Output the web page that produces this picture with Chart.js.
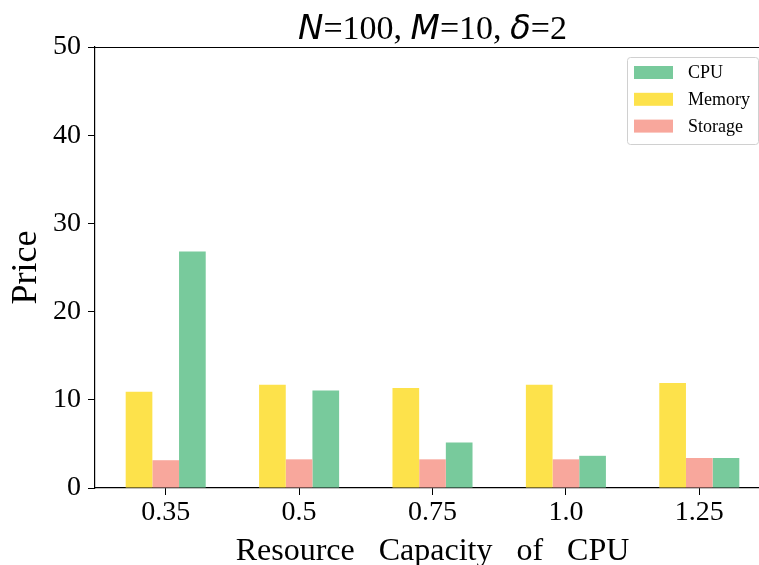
<!DOCTYPE html>
<html>
<head>
<meta charset="utf-8">
<script src="https://cdn.jsdelivr.net/npm/chart.js@4"></script>
<style>
html, body { margin: 0; padding: 0; background: #ffffff; overflow: hidden; }
#wrap { width: 759px; height: 565px; overflow: hidden; position: relative; }
canvas { display: block; }
</style>
</head>
<body>
<div id="wrap"><canvas id="c" width="780" height="565"></canvas></div>
<script>
// ---- data ----
const categories = ['0.35', '0.5', '0.75', '1.0', '1.25'];
const memoryPrice = [10.9, 11.7, 11.35, 11.7, 11.9];
const storagePrice = [3.15, 3.25, 3.25, 3.25, 3.4];
const cpuPrice = [26.8, 11.05, 5.15, 3.65, 3.4];
const yTicks = [0, 10, 20, 30, 40, 50];
const legendOrder = ['CPU', 'Memory', 'Storage'];
const titleParts = [
  { text: 'N', math: true },
  { text: '=100, ', math: false },
  { text: 'M', math: true },
  { text: '=10, ', math: false },
  { text: 'δ', math: true },
  { text: '=2', math: false }
];
const xTitle = 'Resource   Capacity   of   CPU';
const yTitle = 'Price';

const SERIF = '"Liberation Serif", "Times New Roman", serif';
const colors = { CPU: '#78CA9C', Memory: '#FDE24B', Storage: '#F8A79C' };

const toPoints = arr => arr.map((v, i) => ({ x: i, y: v }));

const titlePlugin = {
  id: 'mixedTitle',
  afterDraw(chart) {
    const ctx = chart.ctx;
    const ca = chart.chartArea;
    ctx.save();
    const mathFont = 'italic 34px "DejaVu Sans", sans-serif';
    const textFont = '34px ' + SERIF;
    let total = 0;
    const widths = titleParts.map(p => {
      ctx.font = p.math ? mathFont : textFont;
      const w = ctx.measureText(p.text).width;
      total += w;
      return w;
    });
    let x = (ca.left + ca.right) / 2 - total / 2;
    const y = 39;
    ctx.fillStyle = '#000';
    ctx.textBaseline = 'alphabetic';
    ctx.textAlign = 'left';
    titleParts.forEach((p, i) => {
      ctx.font = p.math ? mathFont : textFont;
      ctx.fillText(p.text, x, y);
      x += widths[i];
    });
    // top and right spines
    ctx.strokeStyle = '#000';
    ctx.lineWidth = 1.2;
    ctx.beginPath();
    ctx.moveTo(ca.left, ca.top + 0.5);
    ctx.lineTo(ca.right, ca.top + 0.5);
    ctx.lineTo(ca.right, ca.bottom);
    ctx.stroke();
    ctx.restore();
  }
};

const legendPlugin = {
  id: 'insideLegend',
  afterDatasetsDraw(chart) {
    const ctx = chart.ctx;
    const ca = chart.chartArea;
    const w = 131, h = 87;
    const left = ca.right - 12 - w;
    const top = ca.top + 10;
    ctx.save();
    ctx.beginPath();
    if (ctx.roundRect) ctx.roundRect(left + 0.5, top + 0.5, w, h, 3);
    else ctx.rect(left + 0.5, top + 0.5, w, h);
    ctx.fillStyle = 'rgba(255,255,255,0.8)';
    ctx.fill();
    ctx.strokeStyle = '#d0d0d0';
    ctx.lineWidth = 1;
    ctx.stroke();
    ctx.font = '18px ' + SERIF;
    ctx.textBaseline = 'middle';
    ctx.textAlign = 'left';
    legendOrder.forEach((name, i) => {
      const ds = chart.data.datasets.find(d => d.label === name);
      const cy = top + 15.5 + i * 26.8;
      ctx.fillStyle = ds.backgroundColor;
      ctx.fillRect(left + 7, cy - 6.5, 39, 13);
      ctx.fillStyle = '#000';
      ctx.fillText(ds.label, left + 61, cy + 1);
    });
    ctx.restore();
  }
};

new Chart(document.getElementById('c'), {
  type: 'bar',
  data: {
    datasets: [
      { label: 'Memory', data: toPoints(memoryPrice), backgroundColor: colors.Memory },
      { label: 'Storage', data: toPoints(storagePrice), backgroundColor: colors.Storage },
      { label: 'CPU', data: toPoints(cpuPrice), backgroundColor: colors.CPU }
    ]
  },
  options: {
    responsive: false,
    devicePixelRatio: 1,
    animation: false,
    layout: { padding: { left: 0, top: 47, right: 10, bottom: 0 } },
    datasets: { bar: { categoryPercentage: 0.6, barPercentage: 1.0, borderWidth: 0 } },
    plugins: { legend: { display: false }, tooltip: { enabled: false }, title: { display: false } },
    scales: {
      x: {
        type: 'linear',
        offset: false,
        min: -0.53,
        max: 4.53,
        afterBuildTicks: axis => { axis.ticks = categories.map((_, i) => ({ value: i })); },
        afterFit: scale => { scale.height = 77; },
        ticks: {
          autoSkip: false,
          maxRotation: 0,
          padding: 1,
          color: '#000',
          font: { family: SERIF, size: 28 },
          callback: v => categories[v] !== undefined ? categories[v] : ''
        },
        grid: { offset: false, drawOnChartArea: false, drawTicks: true, tickLength: 7, tickColor: '#000', tickWidth: 1 },
        border: { display: true, color: '#000', width: 1.2 },
        title: {
          display: true,
          text: xTitle,
          color: '#000',
          font: { family: SERIF, size: 32, lineHeight: 1 },
          padding: { top: 0, bottom: -3 }
        }
      },
      y: {
        min: 0,
        max: 50,
        afterBuildTicks: axis => { axis.ticks = yTicks.map(v => ({ value: v })); },
        afterFit: scale => { scale.width = 95; },
        ticks: {
          padding: 7,
          color: '#000',
          font: { family: SERIF, size: 28 }
        },
        grid: { drawOnChartArea: false, drawTicks: true, tickLength: 7, tickColor: '#000', tickWidth: 1 },
        border: { display: true, color: '#000', width: 1.2 },
        title: {
          display: true,
          text: yTitle,
          color: '#000',
          font: { family: SERIF, size: 36, lineHeight: 1 },
          padding: { top: 9, bottom: 0 }
        }
      }
    }
  },
  plugins: [titlePlugin, legendPlugin]
});
</script>
</body>
</html>
